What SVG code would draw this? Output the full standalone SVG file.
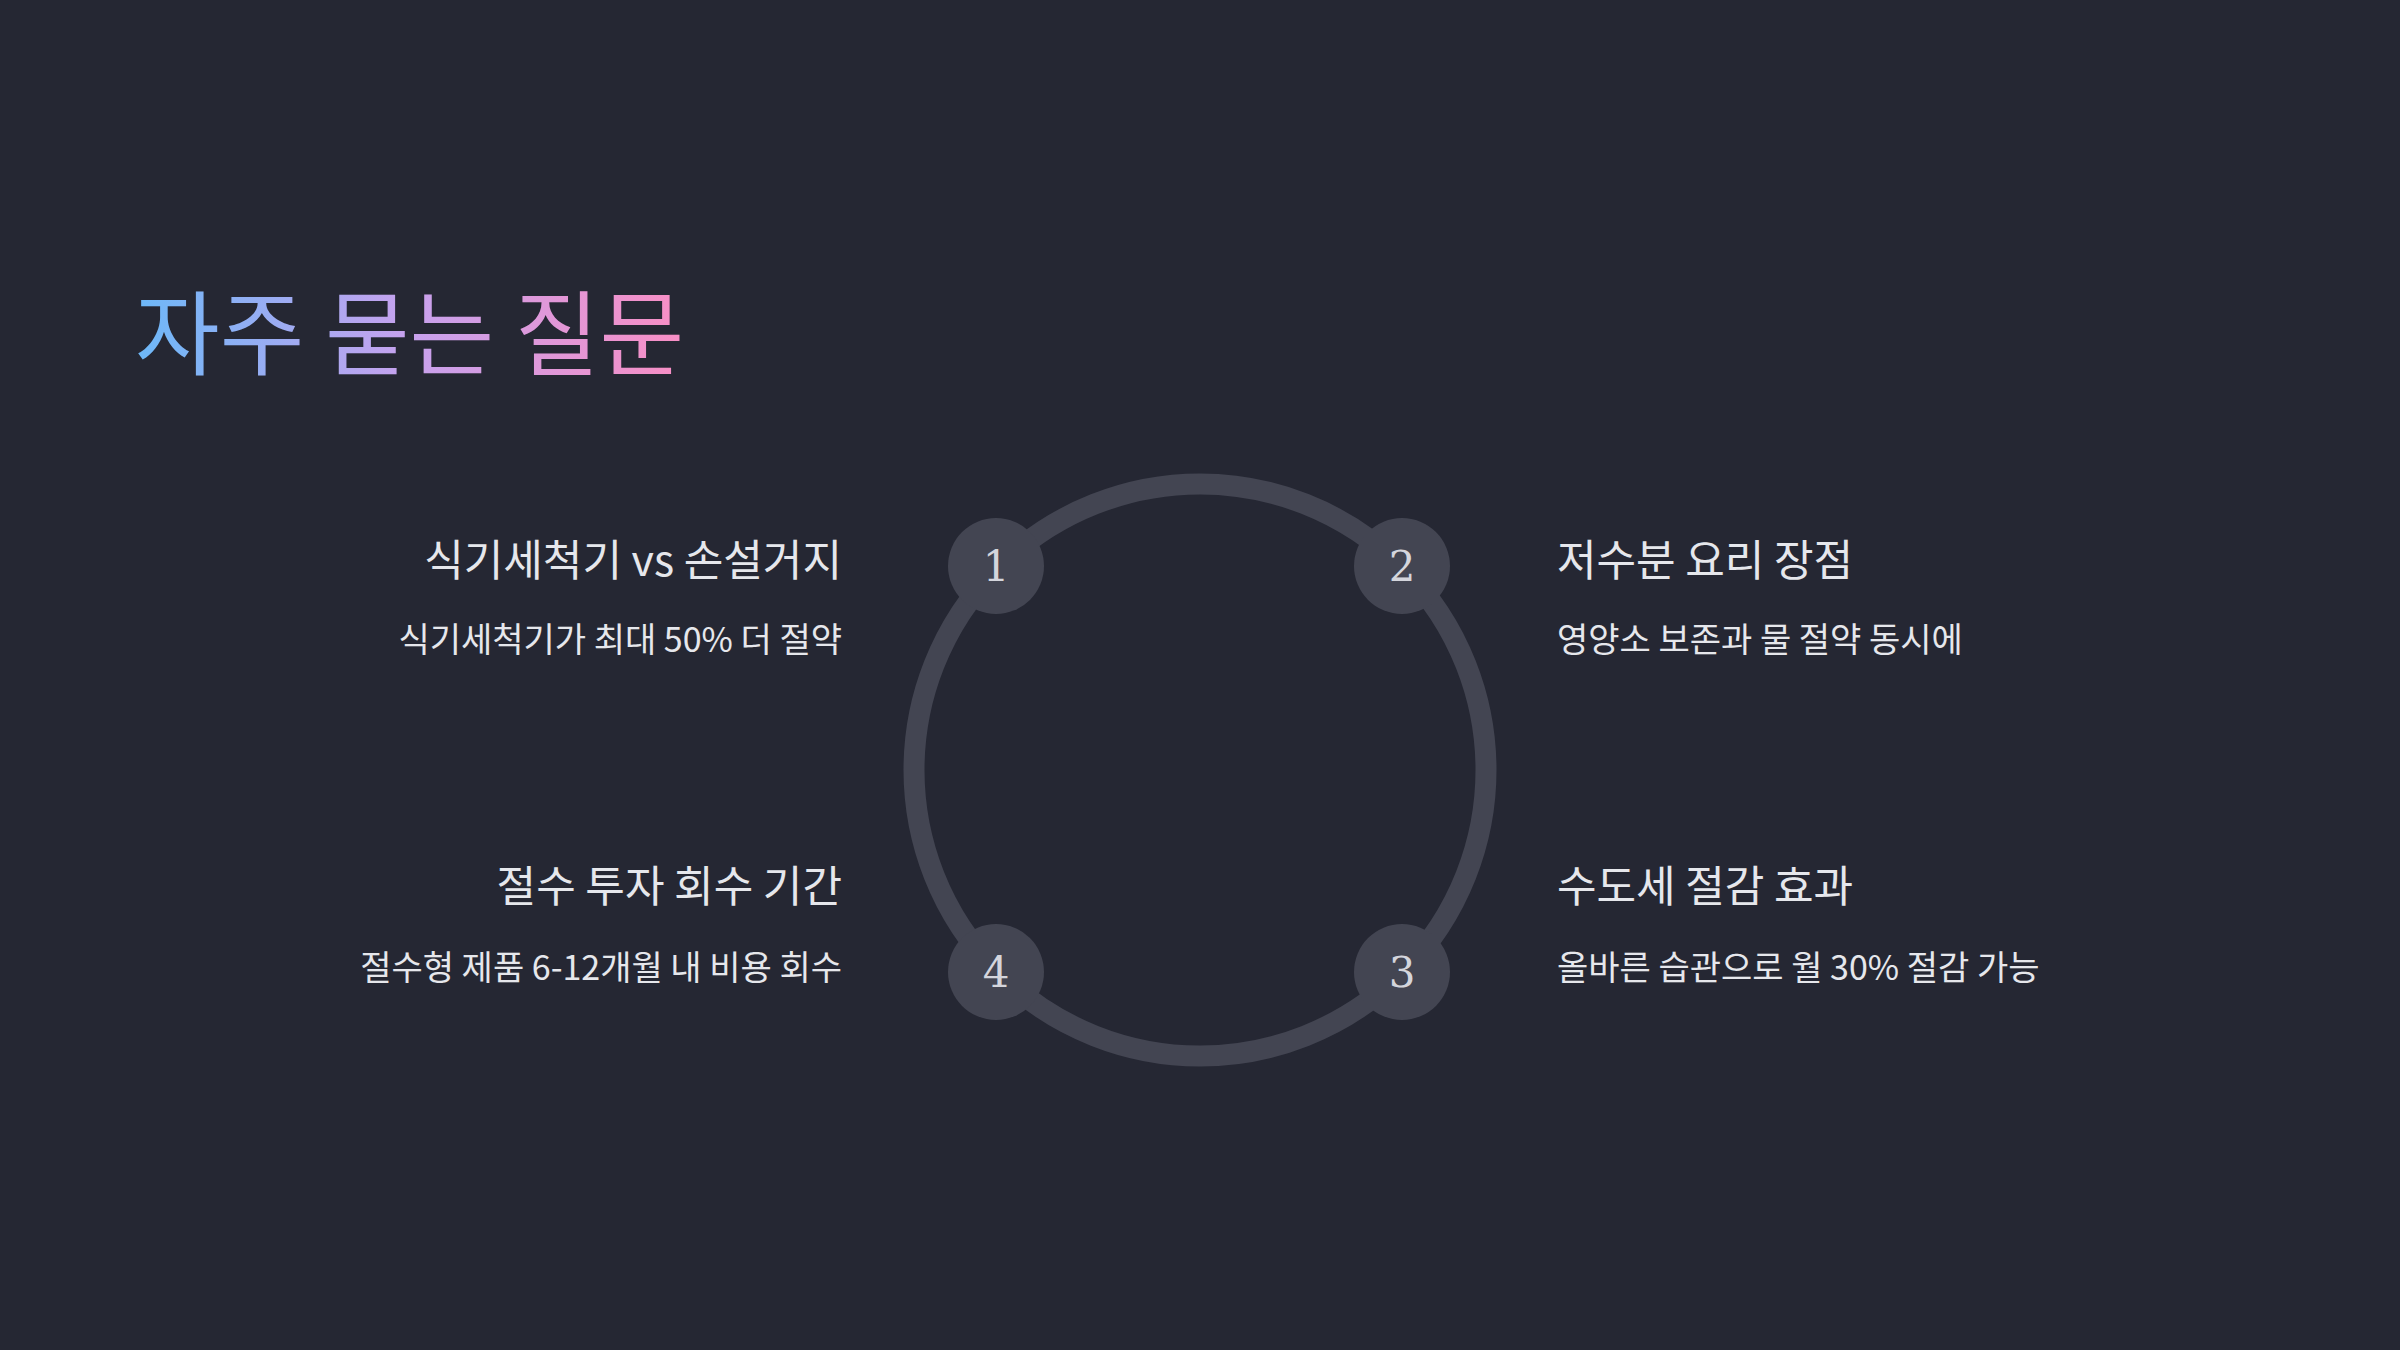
<svg xmlns="http://www.w3.org/2000/svg" width="2400" height="1350" viewBox="0 0 2400 1350">
<defs>
<linearGradient id="tg" x1="135" y1="0" x2="675" y2="0" gradientUnits="userSpaceOnUse">
<stop offset="0" stop-color="#6cb8f8"/><stop offset="0.5" stop-color="#c6a2ee"/><stop offset="1" stop-color="#f78fc6"/>
</linearGradient>
<style>
text{font-family:"Noto Sans CJK KR","Noto Sans",sans-serif}
.h{font-size:43px;fill:#e6e7ec}
.s{font-size:34px;fill:#e6e7ec}
.n{font-family:"DejaVu Serif","Liberation Serif",serif;font-size:42px;fill:#d4d5dc;text-anchor:middle}
.b{fill:#434552}
</style>
</defs>
<rect width="2400" height="1350" fill="#252733"/>
<text x="135" y="368" font-size="92" fill="url(#tg)">자주 묻는 질문</text>
<g id="connectors"><circle cx="1200" cy="770" r="286" fill="none" stroke="#434552" stroke-width="21"/></g>
<g id="n1"><circle class="b" cx="996" cy="566" r="48"/><text class="n" x="996" y="581">1</text>
<text class="h" x="842" y="576" text-anchor="end">식기세척기 vs 손설거지</text>
<text class="s" x="842" y="652" text-anchor="end">식기세척기가 최대 50% 더 절약</text></g>
<g id="n2"><circle class="b" cx="1402" cy="566" r="48"/><text class="n" x="1402" y="581">2</text>
<text class="h" x="1557" y="576">저수분 요리 장점</text>
<text class="s" x="1557" y="652">영양소 보존과 물 절약 동시에</text></g>
<g id="n3"><circle class="b" cx="1402" cy="972" r="48"/><text class="n" x="1402" y="987">3</text>
<text class="h" x="1557" y="902">수도세 절감 효과</text>
<text class="s" x="1557" y="980">올바른 습관으로 월 30% 절감 가능</text></g>
<g id="n4"><circle class="b" cx="996" cy="972" r="48"/><text class="n" x="996" y="987">4</text>
<text class="h" x="842" y="902" text-anchor="end">절수 투자 회수 기간</text>
<text class="s" x="842" y="980" text-anchor="end">절수형 제품 6-12개월 내 비용 회수</text></g>
</svg>
